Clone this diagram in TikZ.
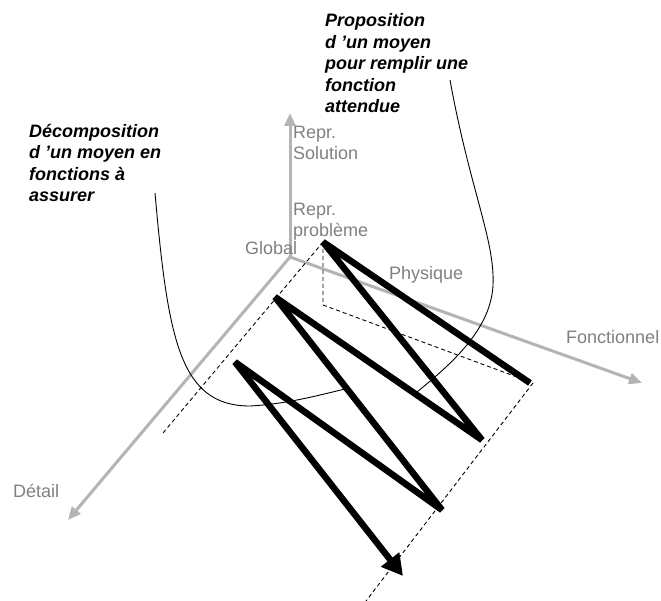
\documentclass[tikz,border=0pt]{standalone}
\usepackage{fontspec}
\setmainfont{Liberation Sans}
\usepackage{tikz}
\usetikzlibrary{arrows.meta,positioning}
\definecolor{axisgray}{RGB}{180,180,180}
\definecolor{labelgray}{RGB}{128,128,128}

\begin{document}
\begin{tikzpicture}[x=1pt, y=-1pt,
    axis/.style={draw=axisgray, line width=3pt, -{Triangle[length=13pt,width=11pt]}},
    axislabel/.style={anchor=base west, inner sep=0pt, text=labelgray, font=\fontsize{18}{21.5}\selectfont, align=left},
    note/.style={anchor=base west, inner sep=0pt, font=\fontsize{18}{21.5}\selectfont\bfseries\itshape, align=left},
    guide/.style={line width=0.9pt, dash pattern=on 4pt off 3pt},
    link/.style={line width=0.9pt},
    sweep/.style={line width=6.5pt, line join=bevel, -{Triangle[length=21pt,width=22pt]}}
  ]
    \useasboundingbox (0,0) rectangle (661,601);

    % axes
    \coordinate (origin) at (290,257);
    \coordinate (solTip) at (290,113);
    \coordinate (fctTip) at (642,383);
    \coordinate (detTip) at (68,520);
    \draw[axis] (origin) -- (solTip);
    \draw[axis] (origin) -- (fctTip);
    \draw[axis] (origin) -- (detTip);

    % labels sit on the baseline of their last line
    \node[axislabel] (solution) at (293,160) {Repr.\\Solution};
    \node[axislabel] (probleme) at (293,237) {Repr.\\problème};
    \node[axislabel] (global) at (245,255) {Global};
    \node[axislabel] (physique) at (389,280) {Physique};
    \node[axislabel] (fonctionnel) at (566,344) {Fonctionnel};
    \node[axislabel] (detail) at (13,497) {Détail};

    \node[note] (decomp) at (29,202) {Décomposition\\d ’un moyen en\\fonctions à\\assurer};
    \node[note] (propos) at (325,113) {Proposition\\d ’un moyen\\pour remplir une\\fonction\\attendue};

    % zigzag corners
    \coordinate (r1) at (530,383);
    \coordinate (top) at (323,242);
    \coordinate (r2) at (482,440);
    \coordinate (la) at (275,297);
    \coordinate (r3) at (442,510);
    \coordinate (lb) at (235,362);
    \coordinate (end) at (403,576);

    % dashed frame
    \coordinate (g1) at (163,433);
    \coordinate (g2) at (323,305);
    \coordinate (g3) at (533,383);
    \coordinate (g4) at (366,601);
    \draw[guide] (top) -- (g1);
    \draw[guide] (top) -- (g2) -- (g3) -- (g4);

    % callout curves
    \coordinate (c1) at (155,193);
    \coordinate (c2) at (250,406);
    \coordinate (c3) at (345,389);
    \draw[link] (c1) .. controls (168,340) and (180,406) .. (c2)
                     .. controls (285,404) and (312,397) .. (c3);
    \coordinate (d1) at (450,80);
    \coordinate (d2) at (493,285);
    \coordinate (d3) at (417,392);
    \draw[link] (d1) .. controls (470,190) and (495,240) .. (d2)
                     .. controls (491,330) and (450,365) .. (d3);

    \draw[sweep] (r1) -- (top) -- (r2) -- (la) -- (r3) -- (lb) -- (end);
\end{tikzpicture}
\end{document}
